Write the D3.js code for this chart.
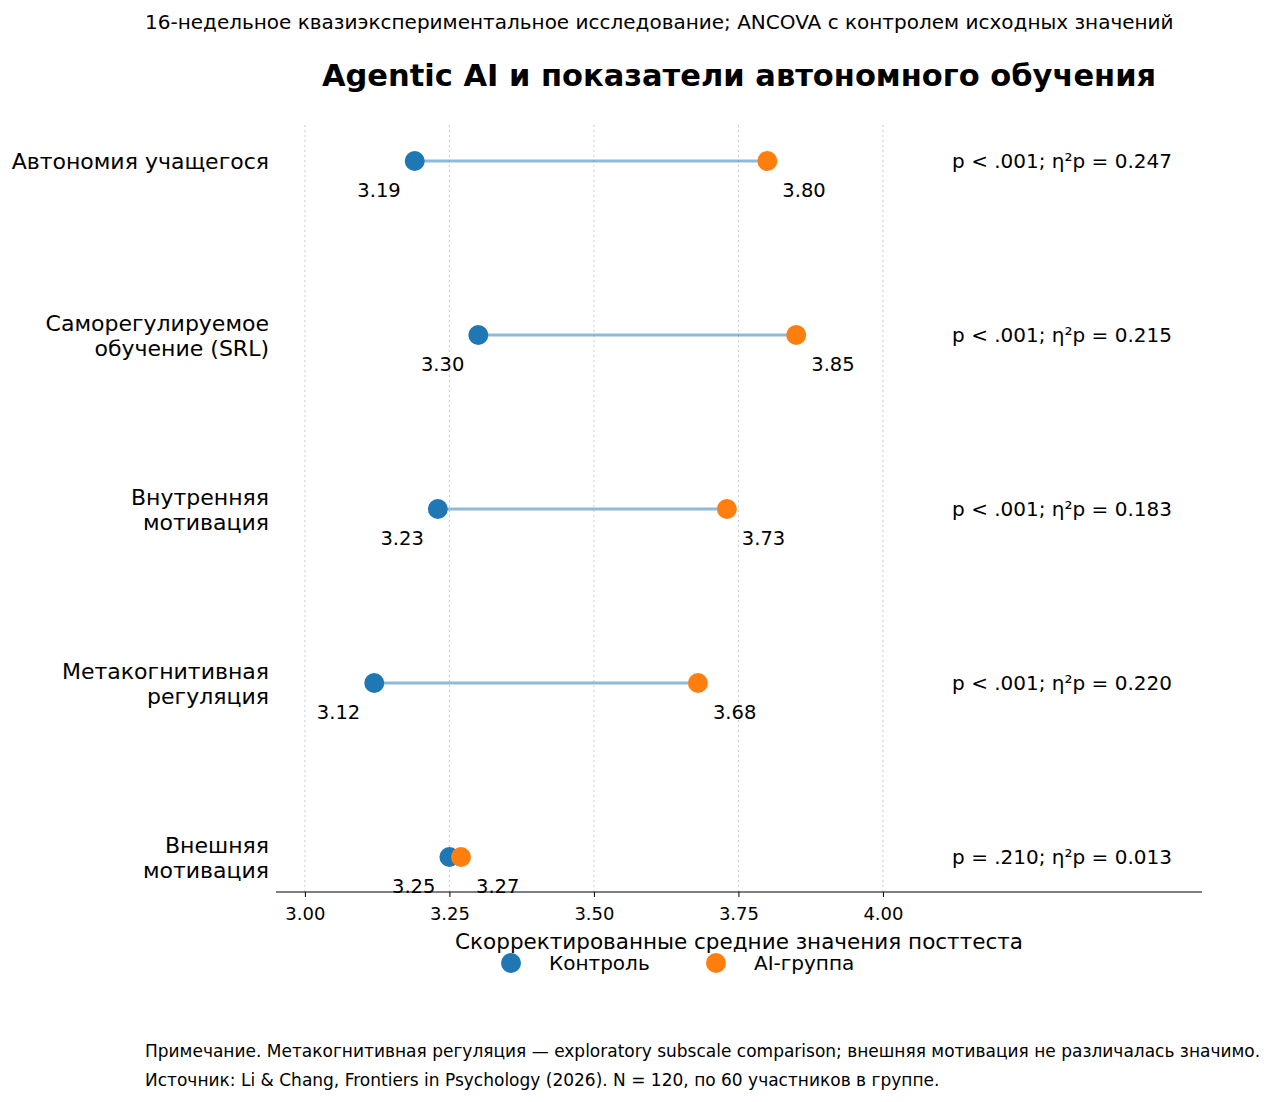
<!doctype html>
<html>
<head>
<meta charset="utf-8">
<style>
	body{margin:0;background:#fff;}
	text{font-family:"DejaVu Sans",sans-serif;fill:#000;}
</style>
</head>
<body>
<div id="root"></div>
<script src="https://d3js.org/d3.v7.min.js"></script>
<script>
var categories = [["Автономия учащегося"], ["Саморегулируемое", "обучение (SRL)"], ["Внутренняя", "мотивация"], ["Метакогнитивная", "регуляция"], ["Внешняя", "мотивация"]];
var controlVals = [3.19, 3.30, 3.23, 3.12, 3.25];
var aiVals = [3.80, 3.85, 3.73, 3.68, 3.27];
var stats = ["p < .001; η²p = 0.247", "p < .001; η²p = 0.215", "p < .001; η²p = 0.183", "p < .001; η²p = 0.220", "p = .210; η²p = 0.013"];
var ticks = [3.00, 3.25, 3.50, 3.75, 4.00];

var W = 1280, H = 1102;
var BLUE = '#1f77b4', ORANGE = '#ff7f0e';

var svg = d3.select('#root').append('svg').attr('width', W).attr('height', H);

var x = d3.scaleLinear().domain([2.95, 4.552]).range([276, 1202]);
var y = d3.scalePoint().domain(d3.range(categories.length)).range([161, 857]);

svg.append('text').attr('x', 145).attr('y', 29).style('font-size', '20px')
	.text('16-недельное квазиэкспериментальное исследование; ANCOVA с контролем исходных значений');
svg.append('text').attr('x', 739).attr('y', 86).attr('text-anchor', 'middle')
	.style('font-size', '30.5px').style('font-weight', 'bold')
	.text('Agentic AI и показатели автономного обучения');

// grid
svg.selectAll('line.grid').data(ticks).enter().append('line')
	.attr('x1', x).attr('x2', x).attr('y1', 125).attr('y2', 892)
	.attr('stroke', '#ccc').attr('stroke-dasharray', '2,3');

// axis
var axis = svg.append('g').attr('transform', 'translate(0,892)')
	.call(d3.axisBottom(x).tickValues(ticks).tickFormat(d3.format('.2f')).tickSize(5));
axis.select('.domain').attr('d', 'M276,0H1202').attr('stroke', '#000');
axis.selectAll('.tick line').attr('stroke', '#000');
axis.selectAll('text').style('font-size', '18px').attr('dy', '1.1em').style('font-family', '"DejaVu Sans",sans-serif');

svg.append('text').attr('x', 739).attr('y', 949).attr('text-anchor', 'middle').style('font-size', '21.5px')
	.text('Скорректированные средние значения посттеста');

var rows = svg.selectAll('g.row').data(categories).enter().append('g')
	.attr('transform', function(d, i){ return 'translate(0,' + y(i) + ')'; });

rows.append('line')
	.attr('x1', function(d, i){ return x(controlVals[i]); })
	.attr('x2', function(d, i){ return x(aiVals[i]); })
	.attr('stroke', BLUE).attr('stroke-opacity', 0.5).attr('stroke-width', 3);
rows.append('circle').attr('cx', function(d, i){ return x(controlVals[i]); }).attr('r', 10).attr('fill', BLUE);
rows.append('circle').attr('cx', function(d, i){ return x(aiVals[i]); }).attr('r', 10).attr('fill', ORANGE);

rows.append('text').attr('x', function(d, i){ return x(controlVals[i]) - 14; }).attr('y', 36)
	.attr('text-anchor', 'end').style('font-size', '19.5px')
	.text(function(d, i){ return controlVals[i].toFixed(2); });
rows.append('text').attr('x', function(d, i){ return x(aiVals[i]) + 15; }).attr('y', 36)
	.style('font-size', '19.5px')
	.text(function(d, i){ return aiVals[i].toFixed(2); });

rows.append('text').attr('x', 1172).attr('y', 7).attr('text-anchor', 'end').style('font-size', '20px')
	.text(function(d, i){ return stats[i]; });

rows.each(function(lines){
	var g = d3.select(this);
	var t = g.append('text').attr('text-anchor', 'end').style('font-size', '22px');
	var start = lines.length === 1 ? 8 : -4;
	lines.forEach(function(l, k){
		t.append('tspan').attr('x', 269).attr('y', start + k * 25).text(l);
	});
});

// legend
var legend = [["Контроль", BLUE, 511], ["AI-группа", ORANGE, 716]];
legend.forEach(function(l){
	svg.append('circle').attr('cx', l[2]).attr('cy', 963).attr('r', 10).attr('fill', l[1]);
	svg.append('text').attr('x', l[2] + 38).attr('y', 970).style('font-size', '20px').text(l[0]);
});

svg.append('text').attr('x', 145).attr('y', 1057).style('font-size', '17px')
	.text('Примечание. Метакогнитивная регуляция — exploratory subscale comparison; внешняя мотивация не различалась значимо.');
svg.append('text').attr('x', 145).attr('y', 1086).style('font-size', '17px')
	.text('Источник: Li & Chang, Frontiers in Psychology (2026). N = 120, по 60 участников в группе.');
</script>
</body>
</html>
